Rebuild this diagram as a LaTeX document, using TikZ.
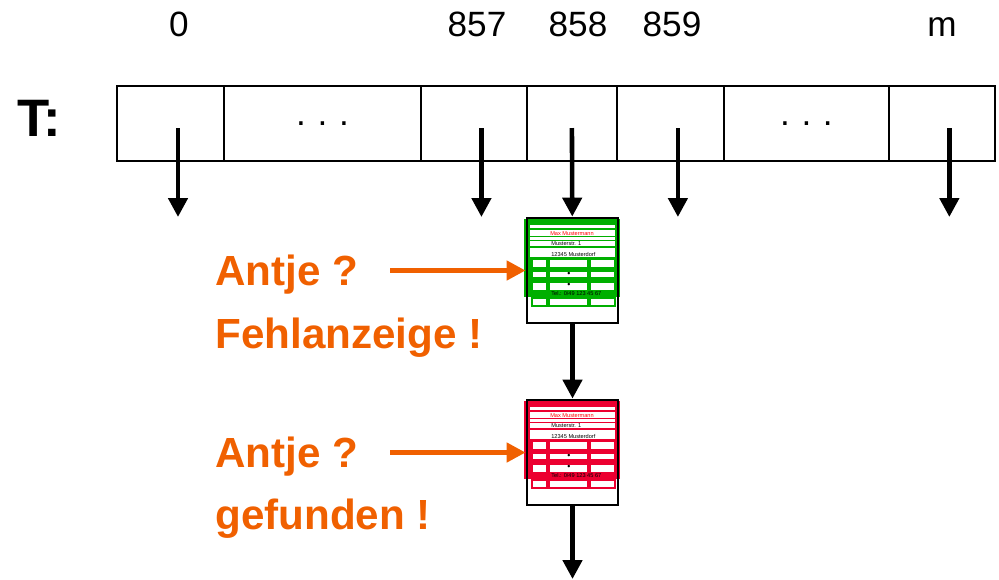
\documentclass[tikz,border=0pt]{standalone}
\usepackage{fontspec}
\setmainfont{Liberation Sans}
\usetikzlibrary{arrows.meta,positioning,calc}

\definecolor{hitorange}{RGB}{240,96,0}
\definecolor{cardgreen}{RGB}{0,175,0}
\definecolor{cardred}{RGB}{236,0,48}

\begin{document}
\begin{tikzpicture}[
  x=0.02cm, y=-0.02cm,
  cell/.style={draw, line width=1.4pt, outer sep=0pt, minimum height=1.5cm,
    inner sep=0pt, font=\fontsize{20}{24}\selectfont},
  idx/.style={anchor=base, font=\fontsize{20}{24}\selectfont},
  ptr/.style={-{Triangle[length=0.38cm,width=0.38cm]}, line width=2.6pt},
  probe/.style={ptr, hitorange},
  query/.style={anchor=base west, inner sep=0pt, text=hitorange,
    font=\fontsize{24}{28}\selectfont\bfseries},
  cardbox/.style={draw, line width=1.6pt, minimum width=1.82cm,
    minimum height=2.1cm, inner sep=0pt},
  cardtxt/.style={anchor=base west, inner sep=0pt,
    font=\fontsize{3.2}{3.6}\selectfont},
  pics/card/.style={code={
    % address card, tinted in #1
    \begin{scope}[shift={(-45.5,-52.5)}]
      \fill[#1] (-3,1) rectangle (93,79);
      \foreach \ya/\yb in {7/10,12/18,19/22,23/28,30/39}
        \fill[white] (3,\ya) rectangle (88,\yb);
      \foreach \ya/\yb in {41/50,53/60,64/73,80/88}
        \foreach \xa/\xb in {5/20,22/61,63/88}
          \filldraw[fill=white, draw=#1, line width=1pt] (\xa,\ya) rectangle (\xb,\yb);
      \node[cardtxt, anchor=base, text=red] at (45,17) {Max Mustermann};
      \node[cardtxt] at (24,27) {Musterstr. 1};
      \node[cardtxt] at (24,38) {12345 Musterdorf};
      \node[cardtxt, anchor=center, font=\fontsize{5}{5}\selectfont] at (42,56) {•};
      \node[cardtxt, anchor=center, font=\fontsize{5}{5}\selectfont] at (42,67) {•};
      \node[cardtxt] at (24,77) {Tel.: 0/49 123 45 67};
    \end{scope}
    \node[cardbox] (-box) at (0,0) {};
  }}
]
\useasboundingbox (0,0) rectangle (999,579);

% hash table
\node[anchor=base west, inner sep=0pt, font=\fontsize{30}{34}\selectfont\bfseries] (tname) at (17,136) {T:};
\node[cell, minimum width=2.14cm] (c0) at (170.5,123.5) {};
\node[cell, minimum width=3.94cm, right=0pt of c0] (d1) {.\,\,.\,\,.};
\node[cell, minimum width=2.12cm, right=0pt of d1] (c857) {};
\node[cell, minimum width=1.80cm, right=0pt of c857] (c858) {};
\node[cell, minimum width=2.14cm, right=0pt of c858] (c859) {};
\node[cell, minimum width=3.30cm, right=0pt of c859] (d2) {.\,\,.\,\,.};
\node[cell, minimum width=2.12cm, right=0pt of d2] (cm) {};

% indices
\node[idx] (i0) at (179,36) {0};
\node[idx] (i857) at (477,36) {857};
\node[idx] (i858) at (578,36) {858};
\node[idx] (i859) at (672,36) {859};
\node[idx] (im) at (942,36) {m};

% empty buckets
\foreach \c in {c0,c857,c859,cm}
  \draw[ptr] ([xshift=0.15cm,yshift=-0.09cm]\c.center) -- ++(0,89) coordinate (\c-end);

% chain of bucket 858
\pic (g) at (572.5,270.5) {card=cardgreen};
\pic (r) at (572.5,452.5) {card=cardred};
\coordinate (tail) at (572.5,579);
\draw[ptr] ([yshift=-0.09cm]c858.center) -- (g-box);
\draw[ptr] (g-box) -- (r-box);
\draw[ptr] (r-box) -- (tail);

% lookups
\node[query] (q1) at (215,285) {Antje ?};
\node[query] (a1) at (215,348) {Fehlanzeige !};
\node[query] (q2) at (215,467) {Antje ?};
\node[query] (a2) at (215,529) {gefunden !};
\coordinate (p1) at (390,270.5);
\coordinate (p2) at (390,452.5);
\draw[probe] (p1) -- (g-box);
\draw[probe] (p2) -- (r-box);
\end{tikzpicture}
\end{document}
